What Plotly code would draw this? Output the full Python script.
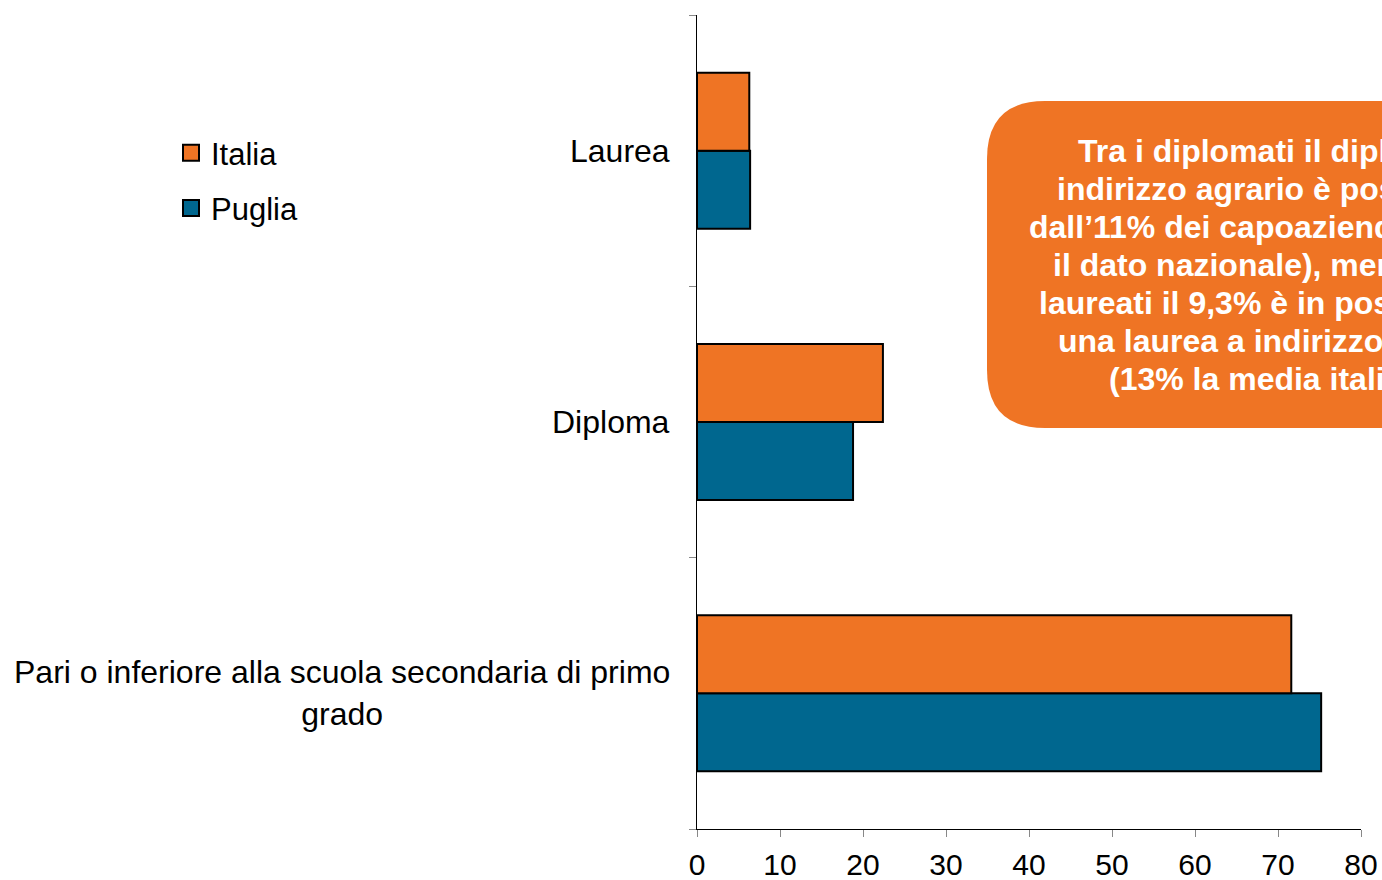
import plotly.graph_objects as go

# ---- data ----
categories = ["Pari o inferiore alla scuola secondaria di primo grado", "Diploma", "Laurea"]
category_labels = ["Pari o inferiore alla scuola secondaria di primo<br>grado", "Diploma", "Laurea"]
series_names = ["Puglia", "Italia"]
puglia = [75.2, 18.8, 6.4]
italia = [71.6, 22.4, 6.3]
x_tick_values = [0, 10, 20, 30, 40, 50, 60, 70, 80]
note_lines = [
    "Tra i diplomati il diploma a",
    "indirizzo agrario è posseduto",
    "dall’11% dei capoaziende (contro",
    "il dato nazionale), mentre tra i",
    "laureati il 9,3% è in possesso di",
    "una laurea a indirizzo agrario",
    "(13% la media italiana)",
]

ORANGE = "#EF7424"
BLUE = "#00678F"
FONT = "Liberation Sans, Arial, sans-serif"

W, H = 1382, 880
L, R, T, B = 697, 21, 15, 51
PW, PH = W - L - R, H - T - B


def px(xp):
    return (xp - L) / PW


def py(yp):
    return (H - B - yp) / PH


fig = go.Figure()
fig.add_trace(go.Bar(
    y=categories, x=puglia, name=series_names[0], orientation="h",
    marker=dict(color=BLUE, line=dict(color="black", width=2)),
    showlegend=False,
))
fig.add_trace(go.Bar(
    y=categories, x=italia, name=series_names[1], orientation="h",
    marker=dict(color=ORANGE, line=dict(color="black", width=2)),
    showlegend=False,
))
# legend entries (square swatches like the reference)
for name, col, rank in [(series_names[1], ORANGE, 1), (series_names[0], BLUE, 2)]:
    fig.add_trace(go.Scatter(
        x=[None], y=[None], mode="markers", name=name, legendrank=rank,
        legendgroup=name,
        marker=dict(symbol="square", size=16, color=col, line=dict(color="black", width=2)),
    ))

annotations = []
for cat, lab in zip(categories, category_labels):
    annotations.append(dict(
        x=0, xref="paper", y=cat, yref="y", text=lab, showarrow=False,
        xanchor="right", yanchor="middle", xshift=-25, align="center",
        font=dict(family=FONT, size=32, color="black"),
    ))

for i, line in enumerate(note_lines):
    annotations.append(dict(
        x=px(1279), xref="paper", y=py(151 + 38 * i), yref="paper",
        text="<b>" + line + "</b>",
        showarrow=False, xanchor="center", yanchor="middle", align="center",
        font=dict(family=FONT, size=32, color="white"),
    ))

# rounded box for the note
x0, x1, y0, y1, r = 987, 1570, 101, 428, 58
path = (
    f"M{px(x0+r)},{py(y0)} L{px(x1-r)},{py(y0)} Q{px(x1)},{py(y0)} {px(x1)},{py(y0+r)} "
    f"L{px(x1)},{py(y1-r)} Q{px(x1)},{py(y1)} {px(x1-r)},{py(y1)} "
    f"L{px(x0+r)},{py(y1)} Q{px(x0)},{py(y1)} {px(x0)},{py(y1-r)} "
    f"L{px(x0)},{py(y0+r)} Q{px(x0)},{py(y0)} {px(x0+r)},{py(y0)} Z"
)

fig.update_layout(
    width=W, height=H,
    margin=dict(l=L, r=R, t=T, b=B, pad=0, autoexpand=False),
    paper_bgcolor="white", plot_bgcolor="white",
    barmode="group", bargap=0.425, bargroupgap=0,
    font=dict(family=FONT, size=31, color="black"),
    showlegend=True,
    legend=dict(
        x=px(171), y=py(126), xanchor="left", yanchor="top",
        traceorder="grouped", tracegroupgap=12,
        font=dict(family=FONT, size=31, color="black"),
        bgcolor="rgba(0,0,0,0)", itemclick=False,
    ),
    xaxis=dict(
        range=[0, 80], tickvals=x_tick_values, ticks="outside", ticklen=7,
        tickcolor="#888888", tickwidth=1, showline=True, linecolor="black",
        linewidth=1, showgrid=False, zeroline=False, ticklabelstandoff=2,
        tickfont=dict(family=FONT, size=30, color="black"),
    ),
    yaxis=dict(
        categoryorder="array", categoryarray=categories,
        showticklabels=False, ticks="outside", ticklen=7, tickcolor="#888888",
        tickson="boundaries", showline=True, linecolor="black", linewidth=1,
        showgrid=False, zeroline=False,
    ),
    shapes=[dict(type="path", path=path, xref="paper", yref="paper",
                 fillcolor=ORANGE, line=dict(width=0), layer="above")],
    annotations=annotations,
)

fig.write_html(
    "out.html",
    config={"displayModeBar": False},
    post_script="document.body.style.margin='0px';document.body.style.overflow='hidden';",
)
